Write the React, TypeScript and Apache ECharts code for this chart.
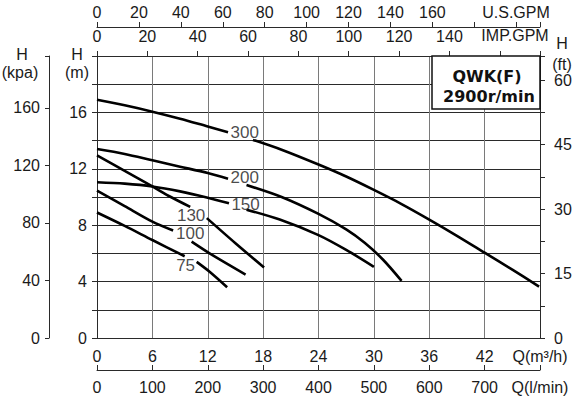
import React, { useEffect, useRef } from "react";
import * as echarts from "echarts";

const FONT = '"Liberation Sans", Arial, sans-serif';
const INK = "#1a1a1a";

// unit conversions (base units: m³/h and m)
const M3H_TO_LMIN = 1000 / 60;
const M3H_TO_IMPGPM = 3.666154;
const M3H_TO_USGPM = 4.402868;
const M_TO_KPA = 9.80665;
const M_TO_FT = 3.28084;

const Q_MAX = 48;
const H_MAX = 20;

// tick labels
const lminTicks = [0, 100, 200, 300, 400, 500, 600, 700, 800];
const impTicks = [0, 20, 40, 60, 80, 100, 120, 140, 160];
const usTicks = [0, 20, 40, 60, 80, 100, 120, 140, 160, 180];
const kpaTicks = [0, 40, 80, 120, 160];
const mLabels = [0, 4, 8, 12, 16];
const ftLabels = [0, 15, 30, 45, 60];

// curves [Q m³/h, H m]; head = before the label, tail = after it
const curveNames = ["300", "200", "150", "130", "100", "75"];
const c300Head = [[0, 16.9], [3, 16.5], [6, 16.05], [9, 15.55], [12, 15.0], [14.2, 14.6]];
const c300Tail = [[16.9, 14.05], [20, 13.35], [24, 12.3], [27, 11.45], [30, 10.5], [33, 9.5], [36, 8.4], [39, 7.25], [42, 6.05], [45, 4.85], [47.9, 3.65]];
const c200Head = [[0, 13.4], [3, 13.05], [6, 12.6], [9, 12.15], [12, 11.7], [14.2, 11.3]];
const c200Tail = [[16.2, 10.85], [20, 10.0], [24, 8.8], [27, 7.7], [29, 6.75], [31, 5.55], [33, 4.05]];
const c150Head = [[0, 11.05], [3, 10.95], [6, 10.75], [9, 10.4], [12, 9.95], [14.3, 9.55]];
const c150Tail = [[16.2, 9.1], [19.8, 8.4], [24, 7.3], [27, 6.25], [30, 5.05]];
const c130Head = [[0, 12.95], [3, 11.85], [6, 10.75], [8, 10.0], [10.1, 9.3]];
const c130Tail = [[11.9, 8.5], [15, 6.72], [18.1, 5.0]];
const c100Head = [[0, 10.45], [3, 9.35], [6, 8.25], [8.25, 7.62]];
const c100Tail = [[10.25, 6.83], [12.2, 6.0], [16.1, 4.5]];
const c75Head = [[0, 8.9], [3, 7.95], [6, 6.95], [9.5, 5.8]];
const c75Tail = [[10.8, 5.4], [12.2, 4.7], [14.1, 3.6]];
const labelQ = [16, 16, 16.1, 10.2, 10.1, 9.6];
const labelH = [14.55, 11.35, 9.5, 8.72, 7.4, 5.17];

const heads = [c300Head, c200Head, c150Head, c130Head, c100Head, c75Head];
const tails = [c300Tail, c200Tail, c150Tail, c130Tail, c100Tail, c75Tail];

const label16 = () => ({ fontSize: 16, color: INK, fontFamily: FONT });
const tickStyle = () => ({ color: "#2a2a2a", width: 1 });
const axisLine = () => ({ show: true, onZero: false, lineStyle: { color: "#2a2a2a", width: 1 } });
// helper axes whose boundary split lines draw the extra axis lines of the auxiliary grids
const edgeAxis = (gridIndex: number) => ({
  type: "value",
  gridIndex,
  min: 0,
  max: 1,
  interval: 1,
  axisLine: { show: false },
  axisTick: { show: false },
  axisLabel: { show: false },
  splitLine: { show: true, lineStyle: { color: "#222", width: 1 } },
});

export default function App() {
  const ref = useRef<HTMLDivElement>(null);

  useEffect(() => {
    if (!ref.current) return;
    const chart = echarts.init(ref.current, undefined, { renderer: "svg" });

    const curveSeries: any[] = [];
    heads.forEach((h, i) => {
      [h, tails[i]].forEach((d) => {
        curveSeries.push({
          type: "line",
          xAxisIndex: 0,
          yAxisIndex: 0,
          data: d,
          smooth: 0.3,
          symbol: "none",
          silent: true,
          lineStyle: { color: "#000", width: 2.6 },
          z: 3,
        });
      });
    });

    const labelSeries = {
      type: "scatter",
      xAxisIndex: 0,
      yAxisIndex: 0,
      symbolSize: 1,
      itemStyle: { color: "rgba(0,0,0,0)" },
      silent: true,
      z: 4,
      data: curveNames.map((n, i) => ({ name: n, value: [labelQ[i], labelH[i]] })),
      label: { show: true, position: "inside", formatter: "{b}", fontSize: 17, color: INK, fontFamily: FONT },
    };

    const txt = (x: number, y: number, text: string, extra: any = {}) => ({
      type: "text",
      x,
      y,
      z: 100,
      silent: true,
      style: { text, fontSize: 16, fontFamily: FONT, fill: INK, align: "center", verticalAlign: "middle", ...extra },
    });

    chart.setOption({
      animation: false,
      backgroundColor: "#fff",
      textStyle: { fontFamily: FONT },
      grid: [
        { left: 97, top: 56, width: 443, height: 282, containLabel: false }, // main plot
        { left: 49, top: 56, width: 491, height: 282, containLabel: false }, // kPa axis
        { left: 97, top: 56, width: 443, height: 314, containLabel: false }, // l/min axis
        { left: 97, top: 27, width: 443, height: 311, containLabel: false }, // US GPM axis
      ],
      xAxis: [
        {
          type: "value", gridIndex: 0, position: "bottom", min: 0, max: Q_MAX, interval: 6,
          axisLine: axisLine(),
          axisTick: { show: false },
          axisLabel: { ...label16(), margin: 10, formatter: (v: number) => (v === Q_MAX ? "Q(m³/h)" : String(v)) },
          splitLine: { show: true, lineStyle: { color: "#7a7a7a", width: 1 } },
        },
        {
          type: "value", gridIndex: 0, position: "top", min: 0, max: Q_MAX * M3H_TO_IMPGPM, interval: 20,
          axisLine: axisLine(),
          axisTick: { show: true, length: 5, lineStyle: tickStyle() },
          axisLabel: { ...label16(), margin: 12, customValues: impTicks, formatter: (v: number) => (v === 160 ? "" : String(v)) },
          splitLine: { show: false },
        },
        edgeAxis(1),
        {
          type: "value", gridIndex: 2, position: "bottom", min: 0, max: Q_MAX * M3H_TO_LMIN, interval: 100,
          axisLine: axisLine(),
          axisTick: { show: true, inside: true, length: 5, lineStyle: tickStyle() },
          axisLabel: { ...label16(), margin: 9, customValues: lminTicks, formatter: (v: number) => (v === 800 ? "Q(l/min)" : String(v)) },
          splitLine: { show: false },
        },
        {
          type: "value", gridIndex: 3, position: "top", min: 0, max: Q_MAX * M3H_TO_USGPM, interval: 20,
          axisLine: axisLine(),
          axisTick: { show: true, length: 5, lineStyle: tickStyle() },
          axisLabel: { ...label16(), margin: 7, customValues: usTicks, formatter: (v: number) => (v === 180 ? "" : String(v)) },
          splitLine: { show: false },
        },
      ],
      yAxis: [
        {
          type: "value", gridIndex: 0, position: "left", min: 0, max: H_MAX, interval: 2,
          axisLine: axisLine(),
          axisTick: { show: true, length: 5, lineStyle: tickStyle() },
          axisLabel: { ...label16(), margin: 10, formatter: (v: number) => (mLabels.includes(v) ? String(v) : "") },
          splitLine: { show: true, lineStyle: { color: "#2a2a2a", width: 1 } },
        },
        {
          type: "value", gridIndex: 0, position: "right", min: 0, max: H_MAX * M_TO_FT, interval: 7.5,
          axisLine: axisLine(),
          axisTick: { show: true, length: 5, lineStyle: tickStyle() },
          axisLabel: { ...label16(), margin: 14, customValues: ftLabels },
          splitLine: { show: false },
        },
        {
          type: "value", gridIndex: 1, position: "left", min: 0, max: H_MAX * M_TO_KPA, interval: 40,
          axisLine: axisLine(),
          axisTick: { show: true, length: 4, lineStyle: tickStyle() },
          axisLabel: { ...label16(), margin: 9, customValues: kpaTicks },
          splitLine: { show: false },
        },
        edgeAxis(2),
        edgeAxis(3),
      ],
      graphic: [
        { type: "rect", z: 99, silent: true, shape: { x: 432, y: 56, width: 108, height: 53 }, style: { fill: "#fff", stroke: "#111", lineWidth: 1.5 } },
        txt(487, 76, "QWK(F)", { fontFamily: '"DejaVu Sans", sans-serif', fontWeight: "bold", fill: "#111" }),
        txt(489, 96, "2900r/min", { fontFamily: '"DejaVu Sans", sans-serif', fontWeight: "bold", fill: "#111" }),
        txt(516, 12, "U.S.GPM"),
        txt(515, 35, "IMP.GPM"),
        txt(22, 54, "H"),
        txt(20, 72.5, "(kpa)"),
        txt(77, 54, "H"),
        txt(77, 72.5, "(m)"),
        txt(562, 43, "H"),
        txt(562, 64, "(ft)"),
      ],
      series: [...curveSeries, labelSeries],
    });

    return () => chart.dispose();
  }, []);

  return <div ref={ref} style={{ position: "absolute", left: 0, top: 0, width: 577, height: 398, background: "#fff" }} />;
}
